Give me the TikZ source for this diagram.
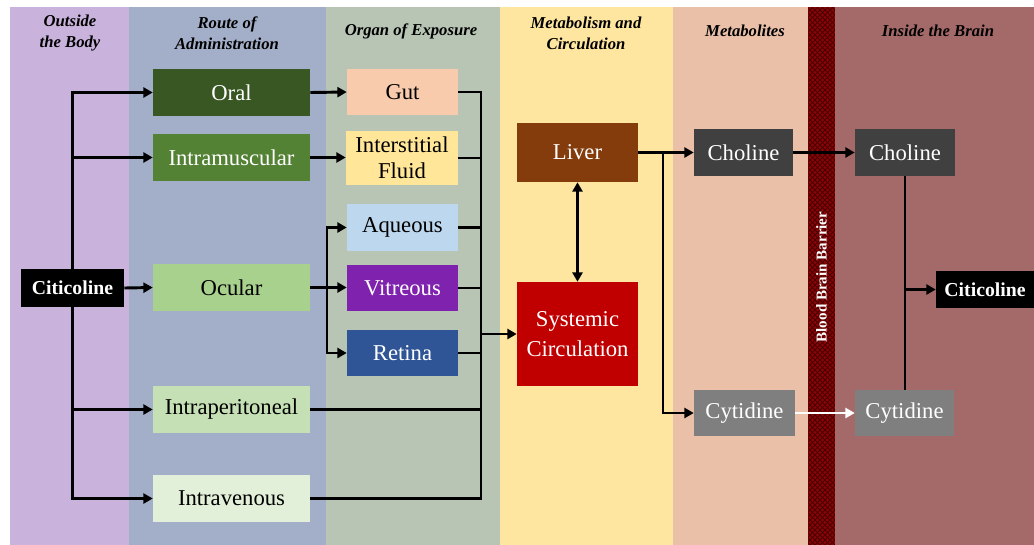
\documentclass[tikz,border=0pt]{standalone}
\usepackage{fontspec}
\setmainfont{Liberation Serif}
\usetikzlibrary{arrows.meta}
\definecolor{colA}{HTML}{C9B3DC}
\definecolor{colB}{HTML}{A3AFC8}
\definecolor{colC}{HTML}{B8C4B4}
\definecolor{colD}{HTML}{FEE5A0}
\definecolor{colE}{HTML}{EAC0A8}
\definecolor{colF}{HTML}{A46A69}
\definecolor{bbb}{HTML}{8A0505}
\definecolor{bbbh}{HTML}{4A0000}
\definecolor{oralc}{HTML}{385723}
\definecolor{imc}{HTML}{548235}
\definecolor{ocuc}{HTML}{A9D18E}
\definecolor{ipc}{HTML}{C5E0B4}
\definecolor{ivc}{HTML}{E2F0D9}
\definecolor{gutc}{HTML}{F8CBAD}
\definecolor{ifc}{HTML}{FFE699}
\definecolor{aqc}{HTML}{BDD7EE}
\definecolor{vitc}{HTML}{7F22AE}
\definecolor{retc}{HTML}{2F5597}
\definecolor{livc}{HTML}{843C0C}
\definecolor{sysc}{HTML}{C00000}
\definecolor{chc}{HTML}{404040}
\definecolor{cyc}{HTML}{7F7F7F}
\newcommand\bxx[7]{\node[box,#6,minimum width={(#4-#2)*0.75pt},minimum height={(#5-#3)*0.75pt}] (#1) at ({(#2+#4)/2},{(#3+#5)/2}) {#7};}
\begin{document}
\begin{tikzpicture}[x=0.75pt,y=-0.75pt,
  box/.style={rectangle,inner sep=0pt,align=center,font=\fontsize{17}{19.5}\selectfont},
  blk/.style={fill=black,text=white,font=\bfseries\fontsize{14.8}{17}\selectfont},
  hdr/.style={align=center,font=\bfseries\itshape\fontsize{12.5}{15.5}\selectfont},
  hatch/.style={draw=bbbh,line width=0.6pt},
  ln/.style={line width=2.2pt},
  arr/.style={line width=2.2pt,-{Triangle[length=7pt,width=7.5pt]}},
  arrb/.style={line width=2.2pt,{Triangle[length=7pt,width=7.5pt]}-{Triangle[length=7pt,width=7.5pt]}}]
\useasboundingbox (0,0) rectangle (1034,544);
\fill[white] (-5,-5) rectangle (1040,550);
% columns
\fill[colA] (10,7) rectangle (129,550);
\fill[colB] (129,7) rectangle (326,550);
\fill[colC] (326,7) rectangle (500,550);
\fill[colD] (500,7) rectangle (673,550);
\fill[colE] (673,7) rectangle (808,550);
\fill[bbb] (808,7) rectangle (835,550);
\begin{scope}
\clip (808,7) rectangle (835,550);
\foreach \k in {-40,-35,...,570} {
  \draw[hatch] (800,\k) -- (845,\k+45);
  \draw[hatch] (800,\k+45) -- (845,\k);
}
\end{scope}
\fill[colF] (835,7) rectangle (1040,550);
% headers
\node[hdr] (h1) at (70,33) {Outside\\the Body};
\node[hdr] (h2) at (227,33) {Route of\\Administration};
\node[hdr] (h3) at (411,31) {Organ of Exposure};
\node[hdr] (h4) at (586,33) {Metabolism and\\Circulation};
\node[hdr] (h5) at (745,31) {Metabolites};
\node[hdr] (h6) at (938,31) {Inside the Brain};
\node[rotate=90,text=white,font=\bfseries\fontsize{11.3}{12}\selectfont] (bbbt) at (821.5,277) {Blood Brain Barrier};
% nodes
\bxx{cit}{21}{269}{124}{307}{blk}{Citicoline}
\bxx{oral}{153}{69}{310}{116}{fill=oralc,text=white}{Oral}
\bxx{im}{153}{134}{310}{181}{fill=imc,text=white}{Intramuscular}
\bxx{ocu}{153}{264}{310}{311}{fill=ocuc}{Ocular}
\bxx{ip}{153}{386}{310}{433}{fill=ipc}{Intraperitoneal}
\bxx{iv}{153}{475}{310}{522}{fill=ivc}{Intravenous}
\bxx{gut}{347}{69}{458}{115}{fill=gutc}{Gut}
\bxx{ifl}{346}{131}{458}{185}{fill=ifc}{Interstitial\\Fluid}
\bxx{aq}{347}{204}{458}{251}{fill=aqc}{Aqueous}
\bxx{vit}{347}{265}{458}{311}{fill=vitc,text=white}{Vitreous}
\bxx{ret}{347}{330}{458}{376}{fill=retc,text=white}{Retina}
\bxx{liv}{517}{123}{638}{182}{fill=livc,text=white}{Liver}
\bxx{sys}{517}{282}{638}{386}{fill=sysc,text=white,font=\fontsize{17}{22}\selectfont}{Systemic\\Circulation}
\bxx{ch}{694}{129}{793}{176}{fill=chc,text=white}{Choline}
\bxx{cy}{694}{390}{795}{436}{fill=cyc,text=white}{Cytidine}
\bxx{chb}{855}{129}{955}{176}{fill=chc,text=white}{Choline}
\bxx{cyb}{855}{390}{954}{436}{fill=cyc,text=white}{Cytidine}
\bxx{citr}{936}{271}{1034}{308}{blk}{Citicoline}
% connectors left
\draw[arr] (cit.north) |- (oral.west);
\draw[arr] (cit.north) |- (im.west);
\draw[arr] (cit.east) -- (ocu.west);
\draw[arr] (cit.south) |- (ip.west);
\draw[arr] (cit.south) |- (iv.west);
\draw[arr] (oral.east) -- (gut.west);
\draw[arr] (im.east) -- (im.east -| ifl.west);
\draw[arr] (ocu.east) -- (ocu.east -| vit.west);
\coordinate (ob) at (327,287.5);
\draw[arr] (ob) |- (aq.west);
\draw[arr] (ob) |- (ret.west);
% trunk to systemic circulation
\coordinate (t) at (481,334);
\draw[ln] (gut.east) -| (t);
\draw[ln] (iv.east) -| (t);
\draw[ln] (ifl.east) -- (ifl.east -| t);
\draw[ln] (aq.east) -- (aq.east -| t);
\draw[ln] (vit.east) -- (vit.east -| t);
\draw[ln] (ret.east) -- (ret.east -| t);
\draw[ln] (ip.east) -- (ip.east -| t);
\draw[arr] (t) -- (t -| sys.west);
% metabolism
\draw[arrb] (liv.south) -- (sys.north);
\coordinate (lb) at (663,152.5);
\draw[arr] (liv.east |- lb) -- (ch.west);
\draw[arr] (lb) |- (cy.west);
\draw[arr] (ch.east) -- (chb.west);
\draw[arr,white] (cy.east) -- (cy.east -| cyb.west);
% brain
\draw[ln] (chb.south) -- (chb.south |- cyb.north);
\coordinate (cb) at (905,289.5);
\draw[arr] (cb) -- (citr.west);
\end{tikzpicture}
\end{document}
